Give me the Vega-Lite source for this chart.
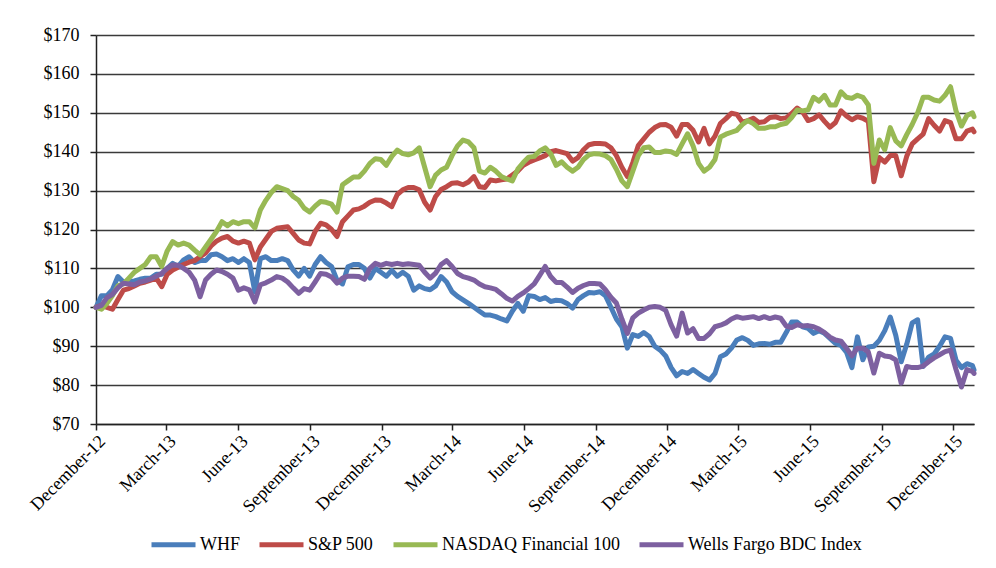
{
"$schema": "https://vega.github.io/schema/vega-lite/v6.json",
"width": 878, "height": 389,
"autosize": {"type": "none"},
"padding": {"left": 96, "top": 35, "right": 22, "bottom": 144},
"background": "white",
"config": {"view": {"stroke": null}, "font": "Liberation Serif"},
"data": {"values": [
{"d":"2012-12-04","G":100,"R":100,"B":100,"P":100},
{"d":"2012-12-11","G":99.5,"R":100.5,"B":103,"P":100.5},
{"d":"2012-12-18","G":101,"R":100,"B":103,"P":102.5},
{"d":"2012-12-25","G":103,"R":99.5,"B":104.5,"P":103.3},
{"d":"2013-01-01","G":105.5,"R":102,"B":107.9,"P":105},
{"d":"2013-01-08","G":106,"R":104.4,"B":106.5,"P":106.2},
{"d":"2013-01-15","G":107.5,"R":104.8,"B":106.5,"P":106},
{"d":"2013-01-22","G":109,"R":105.5,"B":106.8,"P":105.8},
{"d":"2013-01-29","G":110,"R":106.2,"B":107.2,"P":106.5},
{"d":"2013-02-05","G":111,"R":106.5,"B":107.5,"P":106.8},
{"d":"2013-02-12","G":113,"R":107,"B":107.5,"P":107.3},
{"d":"2013-02-19","G":113,"R":107.5,"B":108.5,"P":108},
{"d":"2013-02-26","G":110.5,"R":105.3,"B":108.5,"P":108.7},
{"d":"2013-03-05","G":114.5,"R":108.5,"B":110,"P":110},
{"d":"2013-03-12","G":116.9,"R":109.6,"B":111.3,"P":110.9},
{"d":"2013-03-19","G":116,"R":110.3,"B":110.5,"P":110.8},
{"d":"2013-03-26","G":116.5,"R":111,"B":112.2,"P":110},
{"d":"2013-04-02","G":116,"R":111.6,"B":113,"P":109},
{"d":"2013-04-09","G":114.7,"R":112,"B":111.5,"P":107},
{"d":"2013-04-16","G":113.5,"R":113,"B":112,"P":102.7},
{"d":"2013-04-23","G":115.5,"R":114,"B":112,"P":107},
{"d":"2013-04-30","G":117.5,"R":115.8,"B":113.5,"P":108.5},
{"d":"2013-05-07","G":119.5,"R":117,"B":113.7,"P":109.6},
{"d":"2013-05-14","G":122,"R":117.8,"B":113,"P":109.2},
{"d":"2013-05-21","G":121,"R":118.2,"B":112,"P":108.5},
{"d":"2013-05-28","G":122,"R":117,"B":112.5,"P":107.5},
{"d":"2013-06-04","G":121.5,"R":116.5,"B":111.5,"P":104.4},
{"d":"2013-06-11","G":122,"R":117,"B":112.5,"P":105},
{"d":"2013-06-18","G":122,"R":116.5,"B":111.5,"P":104.5},
{"d":"2013-06-25","G":120.4,"R":112.2,"B":104,"P":101.4},
{"d":"2013-07-02","G":125,"R":115.5,"B":112.5,"P":105.8},
{"d":"2013-07-09","G":127.5,"R":117.5,"B":113,"P":106.3},
{"d":"2013-07-16","G":129.5,"R":119.5,"B":112,"P":107},
{"d":"2013-07-23","G":131,"R":120.3,"B":112,"P":107.9},
{"d":"2013-07-30","G":130.5,"R":120.5,"B":112.5,"P":107.5},
{"d":"2013-08-06","G":130,"R":120.7,"B":112,"P":106.5},
{"d":"2013-08-13","G":128.5,"R":119,"B":109.6,"P":105},
{"d":"2013-08-20","G":127.5,"R":117.3,"B":108,"P":103.6},
{"d":"2013-08-27","G":125.5,"R":116.5,"B":110,"P":104.8},
{"d":"2013-09-03","G":124.5,"R":116.3,"B":108,"P":104.4},
{"d":"2013-09-10","G":126,"R":119.5,"B":111,"P":106.5},
{"d":"2013-09-17","G":127.2,"R":121.6,"B":113,"P":108.7},
{"d":"2013-09-24","G":127,"R":121.2,"B":111.5,"P":108.5},
{"d":"2013-10-01","G":126.5,"R":120,"B":110.5,"P":107.8},
{"d":"2013-10-08","G":124.5,"R":118.2,"B":107,"P":106.2},
{"d":"2013-10-15","G":131.5,"R":122,"B":106,"P":107.5},
{"d":"2013-10-22","G":132.5,"R":123.5,"B":110.4,"P":108},
{"d":"2013-10-29","G":133.5,"R":125,"B":111,"P":108},
{"d":"2013-11-05","G":133.5,"R":125.3,"B":111,"P":107.9},
{"d":"2013-11-12","G":135,"R":126,"B":110,"P":107.2},
{"d":"2013-11-19","G":137,"R":127,"B":107.5,"P":110},
{"d":"2013-11-26","G":138.2,"R":127.6,"B":110,"P":111.3},
{"d":"2013-12-03","G":138,"R":127.5,"B":109,"P":110.8},
{"d":"2013-12-10","G":136.5,"R":126.8,"B":108,"P":111.3},
{"d":"2013-12-17","G":138.8,"R":125.9,"B":109.5,"P":111},
{"d":"2013-12-24","G":140.4,"R":129,"B":108,"P":111.3},
{"d":"2013-12-31","G":139.5,"R":130.2,"B":109,"P":111},
{"d":"2014-01-07","G":139.2,"R":130.8,"B":108,"P":111.2},
{"d":"2014-01-14","G":139.7,"R":130.8,"B":104.4,"P":111},
{"d":"2014-01-21","G":141,"R":130.2,"B":105.5,"P":110.8},
{"d":"2014-01-28","G":136,"R":127,"B":104.8,"P":109},
{"d":"2014-02-04","G":131,"R":125,"B":104.5,"P":107.5},
{"d":"2014-02-11","G":134,"R":128.5,"B":105.5,"P":108.8},
{"d":"2014-02-18","G":135.3,"R":130.3,"B":107.9,"P":111},
{"d":"2014-02-25","G":136,"R":131,"B":106.5,"P":112},
{"d":"2014-03-04","G":139,"R":131.9,"B":104,"P":110.5},
{"d":"2014-03-11","G":141.5,"R":132,"B":102.8,"P":108.7},
{"d":"2014-03-18","G":143,"R":131.5,"B":101.9,"P":107.9},
{"d":"2014-03-25","G":142.5,"R":132.2,"B":101,"P":107.5},
{"d":"2014-04-01","G":141,"R":133.6,"B":100,"P":107},
{"d":"2014-04-08","G":135,"R":131,"B":99,"P":106},
{"d":"2014-04-15","G":134.5,"R":130.8,"B":98,"P":105.3},
{"d":"2014-04-22","G":136,"R":132.7,"B":98,"P":105},
{"d":"2014-04-29","G":135,"R":132.5,"B":97.6,"P":104.6},
{"d":"2014-05-06","G":133.6,"R":132.8,"B":97,"P":103.5},
{"d":"2014-05-13","G":133,"R":133,"B":96.5,"P":102.3},
{"d":"2014-05-20","G":132.5,"R":134,"B":99,"P":101.6},
{"d":"2014-05-27","G":135.5,"R":135,"B":101,"P":102.8},
{"d":"2014-06-03","G":137.2,"R":136.5,"B":99,"P":103.7},
{"d":"2014-06-10","G":138.6,"R":137.3,"B":103,"P":104.8},
{"d":"2014-06-17","G":138.8,"R":137.9,"B":102.8,"P":106},
{"d":"2014-06-24","G":140.2,"R":138.4,"B":102,"P":108.2},
{"d":"2014-07-01","G":141,"R":139,"B":102.5,"P":110.5},
{"d":"2014-07-08","G":139.5,"R":140,"B":101.5,"P":107.9},
{"d":"2014-07-15","G":136.5,"R":140.3,"B":101.8,"P":106.4},
{"d":"2014-07-22","G":137.4,"R":139.9,"B":101.7,"P":106.4},
{"d":"2014-07-29","G":136,"R":139.5,"B":101,"P":105.2},
{"d":"2014-08-05","G":135,"R":137.6,"B":99.8,"P":103.8},
{"d":"2014-08-12","G":136,"R":138.5,"B":102,"P":104.9},
{"d":"2014-08-19","G":138,"R":140.5,"B":103,"P":105.6},
{"d":"2014-08-26","G":139.2,"R":141.8,"B":103.8,"P":106.1},
{"d":"2014-09-02","G":139.5,"R":142.1,"B":103.7,"P":106.1},
{"d":"2014-09-09","G":139.4,"R":142.1,"B":104,"P":106},
{"d":"2014-09-16","G":139,"R":142,"B":103,"P":104.5},
{"d":"2014-09-23","G":138,"R":141,"B":100,"P":102.6},
{"d":"2014-09-30","G":135.5,"R":139,"B":97,"P":101.1},
{"d":"2014-10-07","G":132.5,"R":136,"B":95,"P":97},
{"d":"2014-10-14","G":131,"R":133.6,"B":89.5,"P":93.3},
{"d":"2014-10-21","G":135,"R":137.2,"B":93,"P":97.3},
{"d":"2014-10-28","G":139,"R":141.6,"B":92.5,"P":98.5},
{"d":"2014-11-04","G":141,"R":143.3,"B":93.5,"P":99.3},
{"d":"2014-11-11","G":141.2,"R":145,"B":92.5,"P":100},
{"d":"2014-11-18","G":139.8,"R":146.2,"B":90,"P":100.2},
{"d":"2014-11-25","G":139.8,"R":146.9,"B":89,"P":100},
{"d":"2014-12-02","G":140.2,"R":147,"B":87.5,"P":99.2},
{"d":"2014-12-09","G":140,"R":146.3,"B":84.5,"P":95.5},
{"d":"2014-12-16","G":139.3,"R":144,"B":82.4,"P":92.6},
{"d":"2014-12-23","G":142,"R":147,"B":83.5,"P":98.5},
{"d":"2014-12-30","G":144.6,"R":147,"B":83,"P":93.4},
{"d":"2015-01-06","G":141.5,"R":145.5,"B":84,"P":94.5},
{"d":"2015-01-13","G":137,"R":142.5,"B":83,"P":92},
{"d":"2015-01-20","G":135,"R":146,"B":82,"P":92},
{"d":"2015-01-27","G":136,"R":142,"B":81.3,"P":93.2},
{"d":"2015-02-03","G":138,"R":144,"B":83,"P":95},
{"d":"2015-02-10","G":143.8,"R":147.3,"B":87.3,"P":95.4},
{"d":"2015-02-17","G":144.5,"R":148.5,"B":88,"P":96},
{"d":"2015-02-24","G":145,"R":149.9,"B":89.5,"P":97},
{"d":"2015-03-03","G":145.5,"R":149.6,"B":91.6,"P":97.6},
{"d":"2015-03-10","G":147,"R":147.6,"B":92.2,"P":97.2},
{"d":"2015-03-17","G":148,"R":148,"B":91.5,"P":97.4},
{"d":"2015-03-24","G":147.2,"R":148.6,"B":90.2,"P":97.6},
{"d":"2015-03-31","G":146,"R":147.5,"B":90.6,"P":97.1},
{"d":"2015-04-07","G":146,"R":147.7,"B":90.7,"P":97.6},
{"d":"2015-04-14","G":146.4,"R":148.8,"B":90.5,"P":97.1},
{"d":"2015-04-21","G":146.4,"R":149,"B":91,"P":97.5},
{"d":"2015-04-28","G":147,"R":148.5,"B":91,"P":97.2},
{"d":"2015-05-05","G":147.3,"R":148.7,"B":93.5,"P":95.2},
{"d":"2015-05-12","G":148.8,"R":149.8,"B":96.2,"P":94.8},
{"d":"2015-05-19","G":150.7,"R":151.2,"B":96.2,"P":95.5},
{"d":"2015-05-26","G":150.5,"R":150.2,"B":95,"P":95.2},
{"d":"2015-06-02","G":150.8,"R":148,"B":94.6,"P":95.3},
{"d":"2015-06-09","G":154,"R":148.5,"B":93.3,"P":95},
{"d":"2015-06-16","G":153,"R":149.5,"B":94,"P":94.4},
{"d":"2015-06-23","G":154.5,"R":147.8,"B":93.3,"P":93.5},
{"d":"2015-06-30","G":152,"R":146.3,"B":92,"P":92.3},
{"d":"2015-07-07","G":152,"R":147.5,"B":90.7,"P":91.6},
{"d":"2015-07-14","G":155.4,"R":150.5,"B":90.2,"P":91.3},
{"d":"2015-07-21","G":154,"R":149.2,"B":88.5,"P":89.5},
{"d":"2015-07-28","G":153.7,"R":148.2,"B":84.5,"P":87.5},
{"d":"2015-08-04","G":154.5,"R":149,"B":92.4,"P":89.5},
{"d":"2015-08-11","G":154,"R":148.6,"B":86.5,"P":89.5},
{"d":"2015-08-18","G":152,"R":147.8,"B":89.8,"P":88.5},
{"d":"2015-08-25","G":137,"R":132.3,"B":90,"P":83.1},
{"d":"2015-09-01","G":143,"R":138.5,"B":91.5,"P":88.2},
{"d":"2015-09-08","G":140.5,"R":137.3,"B":94,"P":87.5},
{"d":"2015-09-15","G":146.2,"R":139,"B":97.5,"P":87.3},
{"d":"2015-09-22","G":142.8,"R":139,"B":92.8,"P":86.5},
{"d":"2015-09-29","G":141.5,"R":133.8,"B":86,"P":80.5},
{"d":"2015-10-06","G":144.4,"R":138.8,"B":90.5,"P":84.8},
{"d":"2015-10-13","G":147,"R":142,"B":96,"P":84.5},
{"d":"2015-10-20","G":150,"R":143.3,"B":96.8,"P":84.5},
{"d":"2015-10-27","G":154,"R":144.5,"B":84.8,"P":84.9},
{"d":"2015-11-03","G":154,"R":148.5,"B":87.2,"P":86},
{"d":"2015-11-10","G":153.3,"R":146.8,"B":88,"P":87},
{"d":"2015-11-17","G":153,"R":145.3,"B":90,"P":87.8},
{"d":"2015-11-24","G":154.5,"R":148,"B":92.4,"P":88.6},
{"d":"2015-12-01","G":156.7,"R":147.5,"B":92,"P":89},
{"d":"2015-12-08","G":150.5,"R":143.3,"B":86.4,"P":84},
{"d":"2015-12-15","G":146.6,"R":143.3,"B":84.5,"P":79.5},
{"d":"2015-12-22","G":149.3,"R":145.3,"B":85.5,"P":84},
{"d":"2015-12-29","G":150,"R":145.8,"B":85,"P":83.5},
{"d":"2015-12-31","G":149,"R":145.1,"B":83.9,"P":83}
]},
"transform": [{"fold": ["B", "R", "G", "P"], "as": ["key", "value"]}],
"mark": {"type": "line", "strokeWidth": 5, "strokeJoin": "round", "strokeCap": "round"},
"encoding": {
  "x": {"field": "d", "type": "temporal",
    "scale": {"type": "utc", "nice": false, "domain": [{"year": 2012, "month": 12, "date": 4, "utc": true}, {"year": 2015, "month": 12, "date": 31, "utc": true}]},
    "axis": {"title": null, "grid": false,
      "values": [
        {"year": 2012, "month": 12, "date": 4, "utc": true},
        {"year": 2013, "month": 3, "date": 4, "utc": true},
        {"year": 2013, "month": 6, "date": 4, "utc": true},
        {"year": 2013, "month": 9, "date": 4, "utc": true},
        {"year": 2013, "month": 12, "date": 4, "utc": true},
        {"year": 2014, "month": 3, "date": 4, "utc": true},
        {"year": 2014, "month": 6, "date": 4, "utc": true},
        {"year": 2014, "month": 9, "date": 4, "utc": true},
        {"year": 2014, "month": 12, "date": 4, "utc": true},
        {"year": 2015, "month": 3, "date": 4, "utc": true},
        {"year": 2015, "month": 6, "date": 4, "utc": true},
        {"year": 2015, "month": 9, "date": 4, "utc": true},
        {"year": 2015, "month": 12, "date": 4, "utc": true}],
      "labelExpr": "utcFormat(datum.value, '%B-%y')",
      "labelAngle": -45, "labelFont": "Liberation Serif", "labelFontSize": 18, "labelColor": "black",
      "labelPadding": 2, "labelOverlap": false, "labelBound": false, "labelFlush": false,
      "tickSize": 6, "tickColor": "#222222", "tickWidth": 1.5,
      "domainColor": "#222222", "domainWidth": 1.5}},
  "y": {"field": "value", "type": "quantitative",
    "scale": {"domain": [70, 170], "nice": false, "zero": false},
    "axis": {"title": null, "values": [70, 80, 90, 100, 110, 120, 130, 140, 150, 160, 170],
      "labelExpr": "'$' + datum.value",
      "labelFont": "Liberation Serif", "labelFontSize": 18, "labelColor": "black", "labelPadding": 11,
      "tickSize": 6, "tickColor": "#222222", "tickWidth": 1.5,
      "domainColor": "#222222", "domainWidth": 1.5,
      "grid": true, "gridColor": "#3a3a3a", "gridWidth": 1.4, "gridOpacity": 1}},
  "color": {"field": "key", "type": "nominal",
    "scale": {"domain": ["B", "R", "G", "P"], "range": ["#4A7EBB", "#BE4B48", "#98B954", "#7D60A0"]},
    "legend": {"title": null, "orient": "none", "legendX": 53, "legendY": 485, "direction": "horizontal",
      "labelExpr": "{'B': 'WHF', 'R': 'S&P 500', 'G': 'NASDAQ Financial 100', 'P': 'Wells Fargo BDC Index'}[datum.value]",
      "symbolType": "stroke", "symbolSize": 1936, "symbolStrokeWidth": 5,
      "labelFont": "Liberation Serif", "labelFontSize": 18, "labelColor": "black",
      "labelOffset": 2, "columnPadding": 9, "labelLimit": 400}}
}
}
